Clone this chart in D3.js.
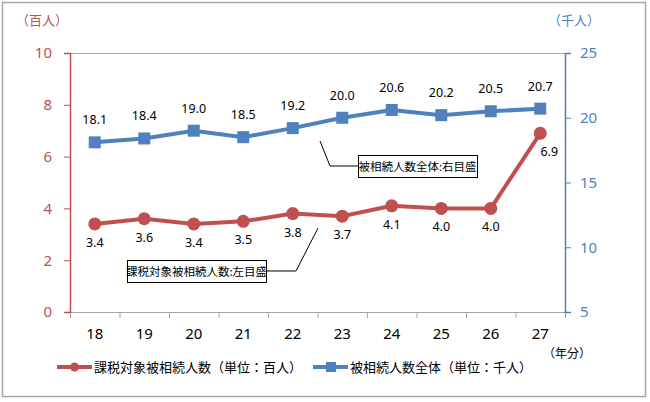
<!DOCTYPE html>
<html><head><meta charset="utf-8">
<script src="https://cdn.jsdelivr.net/npm/d3@7"></script>
<style>body{margin:0;background:#fff}svg{display:block}</style>
</head><body>
<script>
const years = ["18","19","20","21","22","23","24","25","26","27"];
const taxable = [3.4,3.6,3.4,3.5,3.8,3.7,4.1,4.0,4.0,6.9];
const total = [18.1,18.4,19.0,18.5,19.2,20.0,20.6,20.2,20.5,20.7];
const leftTicks = [0,2,4,6,8,10];
const rightTicks = [5,10,15,20,25];

const W=650,H=402;
const red="#C0504D", blue="#4F81BD";
const jp='"Noto Sans CJK JP", sans-serif';
const num='"Noto Sans", "Liberation Sans", sans-serif';
const svg=d3.select("body").append("svg").attr("width",W).attr("height",H);
svg.append("rect").attr("x",2.5).attr("y",2.5).attr("width",643).attr("height",394).attr("fill","#fff").attr("stroke","#a6a6a6").attr("stroke-width",1.5);

const L=70,R=565,T=53,B=312;
const x=d3.scaleBand().domain(years).range([L,R]);
const yL=d3.scaleLinear().domain([0,10]).range([B,T]);
const yR=d3.scaleLinear().domain([5,25]).range([B,T]);

// plot border top
svg.append("line").attr("x1",L).attr("x2",R).attr("y1",T+0.5).attr("y2",T+0.5).attr("stroke","#a6a6a6");
// x axis
const xa=svg.append("g").attr("transform",`translate(0,${B})`).call(d3.axisBottom(x).tickSize(0).tickPadding(16));
xa.select(".domain").attr("stroke","#a6a6a6");
xa.selectAll("text").attr("font-family",num).attr("font-size",15).attr("fill","#000");
svg.append("g").selectAll("line").data(d3.range(years.length+1)).join("line")
  .attr("x1",i=>L+i*x.step()+0.5).attr("x2",i=>L+i*x.step()+0.5).attr("y1",B).attr("y2",B+6).attr("stroke","#a6a6a6");

// left axis
const la=svg.append("g").attr("transform",`translate(${L},0)`).call(d3.axisLeft(yL).tickValues(leftTicks).tickSize(6).tickPadding(12));
la.select(".domain").attr("stroke",red).attr("stroke-width",1.5);
la.selectAll("line").attr("stroke",red);
la.selectAll("text").attr("font-family",num).attr("font-size",15).attr("fill",red);
// right axis
const ra=svg.append("g").attr("transform",`translate(${R},0)`).call(d3.axisRight(yR).tickValues(rightTicks).tickSize(6).tickPadding(9));
ra.select(".domain").attr("stroke",blue).attr("stroke-width",1.5);
ra.selectAll("line").attr("stroke",blue);
ra.selectAll("text").attr("font-family",num).attr("font-size",15).attr("fill",blue);

svg.append("text").attr("x",16).attr("y",25).attr("font-family",jp).attr("font-size",13).attr("fill",red).text("（百人）");
svg.append("text").attr("x",548).attr("y",25).attr("font-family",jp).attr("font-size",13).attr("fill",blue).text("（千人）");
svg.append("text").attr("x",543).attr("y",358).attr("font-family",jp).attr("font-size",12).attr("fill","#000").text("（年分）");

const cx=d=>x(d)+x.bandwidth()/2;
// blue series
const tl=years.map((y,i)=>[cx(y),yR(total[i])]);
svg.append("path").attr("d",d3.line()(tl)).attr("fill","none").attr("stroke",blue).attr("stroke-width",4);
svg.append("g").selectAll("rect").data(tl).join("rect").attr("x",d=>d[0]-6).attr("y",d=>d[1]-6).attr("width",12).attr("height",12).attr("fill",blue);
svg.append("g").selectAll("text").data(tl).join("text").attr("x",d=>d[0]).attr("y",d=>d[1]-18).attr("text-anchor","middle")
  .attr("font-family",num).attr("font-size",12.5).attr("fill","#000").text((d,i)=>total[i].toFixed(1));
// red series
const rl=years.map((y,i)=>[cx(y),yL(taxable[i])]);
svg.append("path").attr("d",d3.line()(rl)).attr("fill","none").attr("stroke",red).attr("stroke-width",4);
svg.append("g").selectAll("circle").data(rl).join("circle").attr("cx",d=>d[0]).attr("cy",d=>d[1]).attr("r",6.5).attr("fill",red);
svg.append("g").selectAll("text").data(rl).join("text").attr("x",(d,i)=>i===9?d[0]+9:d[0]).attr("y",d=>d[1]+23).attr("text-anchor","middle")
  .attr("font-family",num).attr("font-size",12.5).attr("fill","#000").text((d,i)=>taxable[i].toFixed(1));

// callouts
function callout(bx,by,bw,bh,txt,pts){
  svg.append("path").attr("d",d3.line()(pts)).attr("fill","none").attr("stroke","#000").attr("stroke-width",1);
  svg.append("rect").attr("x",bx+0.5).attr("y",by+0.5).attr("width",bw).attr("height",bh).attr("fill","#fff").attr("stroke","#000");
  svg.append("text").attr("x",bx+bw/2).attr("y",by+bh/2+4.5).attr("text-anchor","middle").attr("font-family",jp).attr("font-size",11.5).attr("fill","#000").text(txt);
}
callout(358,155,119,22,"被相続人数全体:右目盛",[[320,141],[330,166],[358,166]]);
callout(127,260,139,22,"課税対象被相続人数:左目盛",[[266,271],[296,271],[318,228]]);

// legend
const lg=svg.append("g");
lg.append("line").attr("x1",57).attr("x2",92).attr("y1",367).attr("y2",367).attr("stroke",red).attr("stroke-width",4);
lg.append("circle").attr("cx",74.5).attr("cy",367).attr("r",4.5).attr("fill",red);
lg.append("text").attr("x",94).attr("y",372).attr("font-family",jp).attr("font-size",13).attr("fill","#000").text("課税対象被相続人数（単位：百人）");
lg.append("line").attr("x1",313).attr("x2",348).attr("y1",367).attr("y2",367).attr("stroke",blue).attr("stroke-width",4);
lg.append("rect").attr("x",326).attr("y",362).attr("width",10).attr("height",10).attr("fill",blue);
lg.append("text").attr("x",350).attr("y",372).attr("font-family",jp).attr("font-size",13).attr("fill","#000").text("被相続人数全体（単位：千人）");
</script>
</body></html>
